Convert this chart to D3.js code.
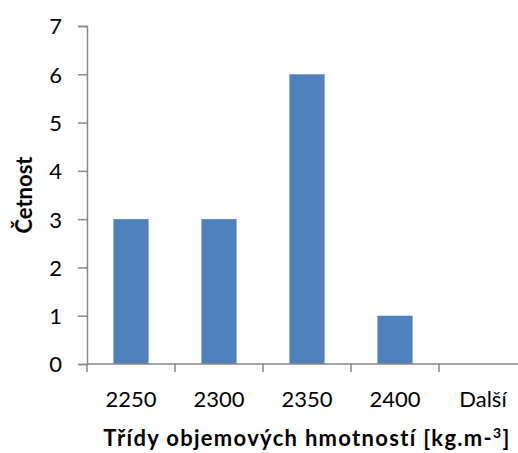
<!DOCTYPE html>
<html>
<head>
<meta charset="utf-8">
<script src="https://cdn.jsdelivr.net/npm/d3@7"></script>
<style>
	body { margin: 0; background: #fff; overflow: hidden; }
	svg { display: block; }
	text { font-family: Lato, 'Open Sans', sans-serif; fill: #000; }
</style>
</head>
<body>
<svg></svg>
<script>
const categories = ['2250', '2300', '2350', '2400', 'Další'];
const counts = [3, 3, 6, 1, 0];
const yTicks = [0, 1, 2, 3, 4, 5, 6, 7];

const width = 518;
const height = 453;

const margin = {
	top: 26,
	right: -9,
	bottom: 89,
	left: 87
}

const innerWidth = width - margin.left - margin.right;
const innerHeight = height - margin.top - margin.bottom;

const svg = d3.select('svg')
	.attr('width', width)
	.attr('height', height)

const g = svg.append('g')
	.attr('transform', `translate(${margin.left}, ${margin.top})`);

// one band per class, ticks on the band edges
const xScale = d3.scaleBand()
	.domain(categories)
	.range([0, innerWidth])

const barWidth = xScale.bandwidth() * 0.4;

const yScale = d3.scaleLinear()
	.domain([0, 7])
	.range([innerHeight, 0])

// bars
g.selectAll('rect.bar')
	.data(counts)
	.enter()
	.append('rect')
	.attr('class', 'bar')
	.attr('x', (d, i) => xScale(categories[i]) + (xScale.bandwidth() - barWidth) / 2)
	.attr('y', d => yScale(d))
	.attr('width', barWidth)
	.attr('height', d => innerHeight - yScale(d))
	.style('fill', '#4f81bd')

// y axis
const yAxis = d3.axisLeft(yScale)
	.tickValues(yTicks)
	.tickFormat(d3.format('d'))
	.tickSizeInner(9)
	.tickSizeOuter(9)
	.tickPadding(16);

const yG = g.append('g').call(yAxis);
yG.selectAll('path, line').attr('stroke', '#868686').attr('stroke-width', 1.5);
yG.selectAll('text')
	.attr('dy', '0.36em')
	.style('font-size', '22px')
	.style('font-family', 'Lato, sans-serif');

// x axis (the plot runs past the right edge, as in the original)
const xAxisG = g.append('g')
	.attr('transform', `translate(0, ${innerHeight})`);

xAxisG.append('line')
	.attr('x1', 0)
	.attr('x2', width - margin.left)
	.attr('stroke', '#868686')
	.attr('stroke-width', 1.5);

xAxisG.selectAll('line.tick')
	.data(categories)
	.enter()
	.append('line')
	.attr('class', 'tick')
	.attr('x1', d => xScale(d))
	.attr('x2', d => xScale(d))
	.attr('y1', 0)
	.attr('y2', 8)
	.attr('stroke', '#868686')
	.attr('stroke-width', 1.5);

xAxisG.selectAll('text')
	.data(categories)
	.enter()
	.append('text')
	.attr('x', d => xScale(d) + xScale.bandwidth() / 2)
	.attr('y', 43)
	.attr('text-anchor', 'middle')
	.style('font-size', '22px')
	.text(d => d);

// titles
svg.append('text')
	.attr('x', 307)
	.attr('y', 446)
	.attr('text-anchor', 'middle')
	.style('font-size', '22px')
	.style('font-weight', 'bold')
	.style('letter-spacing', '1.3px')
	.html('Třídy objemových hmotností [kg.m-<tspan dy="-8" style="font-size:14px">3</tspan><tspan dy="8">]</tspan>');

svg.append('text')
	.attr('transform', `translate(32, ${margin.top + innerHeight / 2}) rotate(-90)`)
	.attr('text-anchor', 'middle')
	.style('font-size', '22px')
	.style('font-weight', 'bold')
	.text('Četnost');
</script>
</body>
</html>
